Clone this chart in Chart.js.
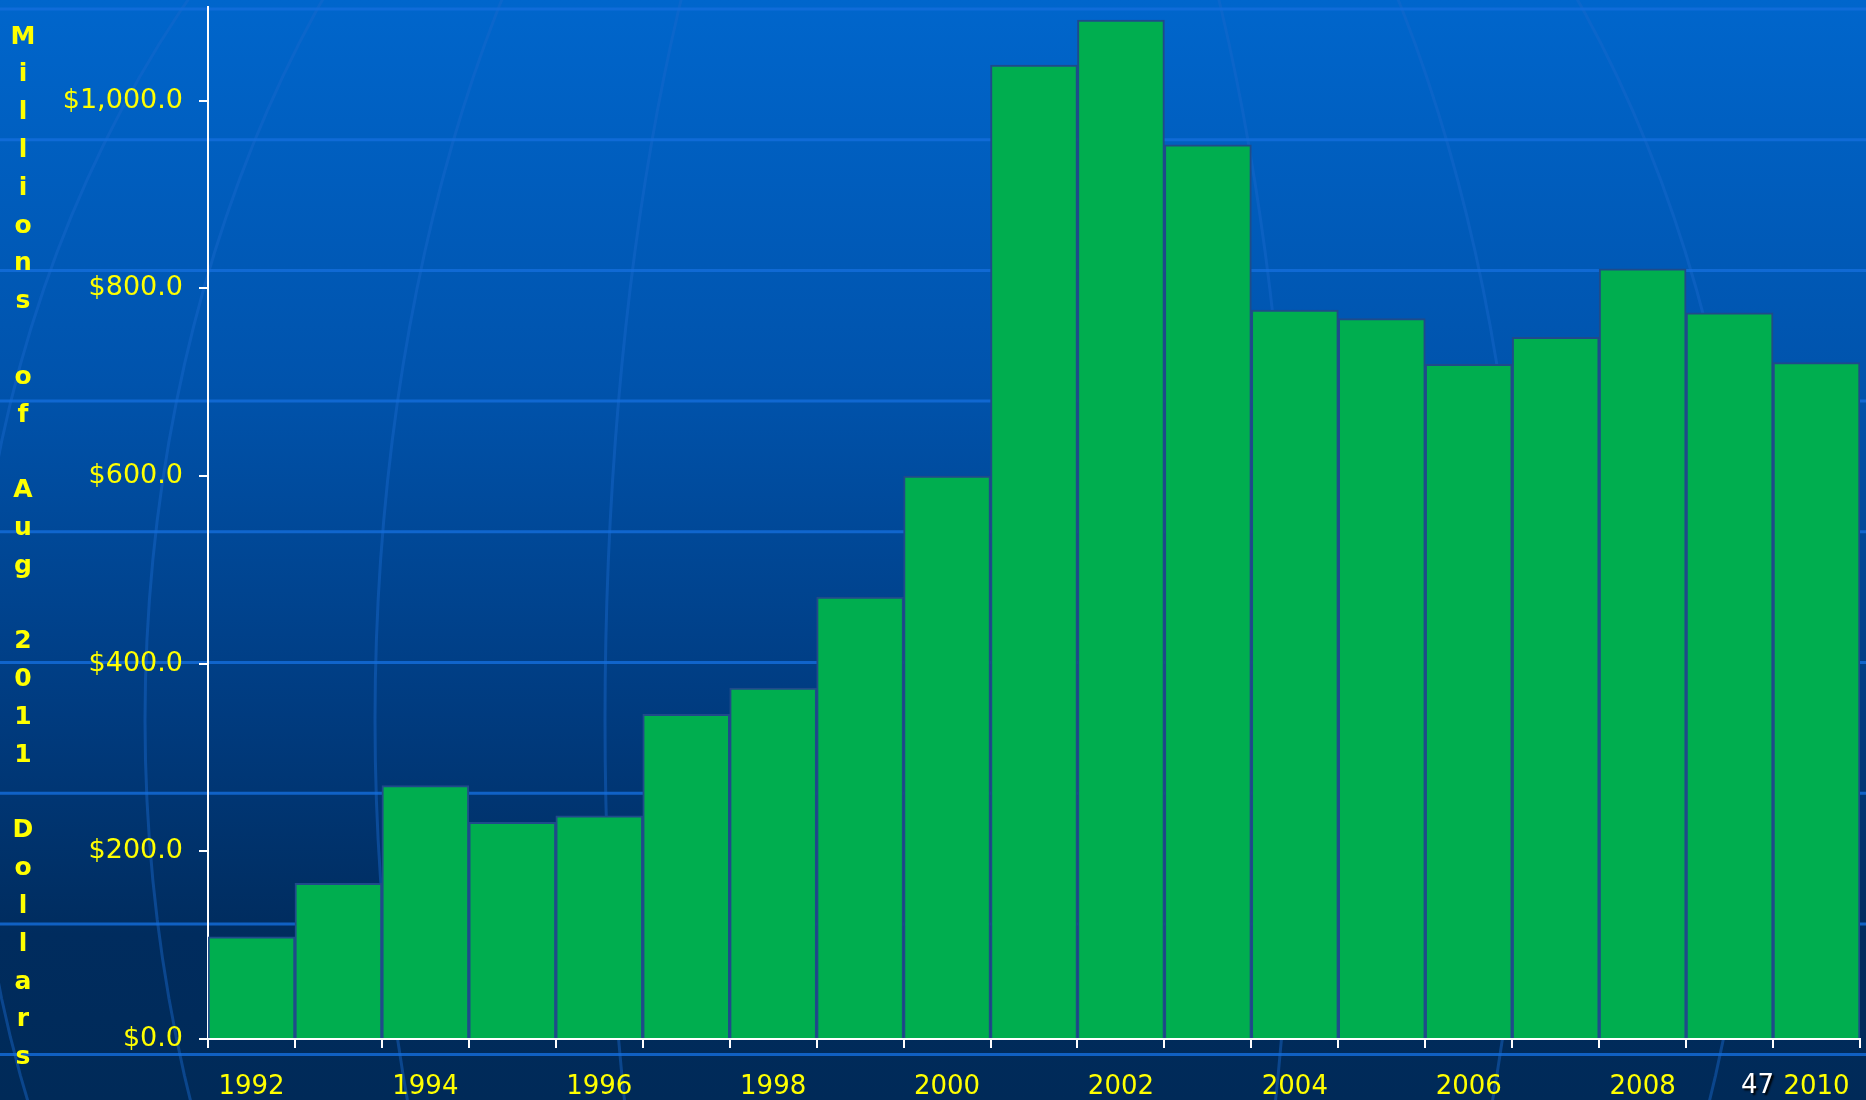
<!DOCTYPE html>
<html>
<head>
<meta charset="utf-8">
<script src="https://cdn.jsdelivr.net/npm/chart.js@4.4.0/dist/chart.umd.min.js"></script>
<style>
  html, body { margin: 0; padding: 0; background: #002a58; }
  #wrap { position: relative; width: 1866px; height: 1100px; }
  #pageNum {
    position: absolute; left: 1741px; top: 1069px;
    font: 26px "DejaVu Sans", Verdana, sans-serif; color: #fff;
    text-shadow: 2px 2px 2px #000;
  }
</style>
</head>
<body>
<div id="wrap">
  <canvas id="grafico" width="1866" height="1100"></canvas>
  <div id="pageNum">47</div>
</div>
<script>
// datos del gráfico
const years = ['1992','1993','1994','1995','1996','1997','1998','1999','2000','2001',
               '2002','2003','2004','2005','2006','2007','2008','2009','2010'];
const spending = [109, 166, 270, 231, 238, 346, 374, 471, 600, 1038,
                  1086, 953, 777, 768, 719, 748, 821, 774, 721];
const axisTitle = 'Millions of Aug 2011 Dollars';

const FONT = '"DejaVu Sans", Verdana, sans-serif';

// fondo azul de la plantilla
const fondo = {
  id: 'fondo',
  beforeDraw(chart) {
    const c = chart.ctx;
    const w = chart.width, h = chart.height;
    const g = c.createLinearGradient(0, 0, 0, h);
    g.addColorStop(0, '#0066cc');
    g.addColorStop(0.35, '#0053ac');
    g.addColorStop(0.65, '#003b7f');
    g.addColorStop(0.85, '#002c5e');
    g.addColorStop(1, '#002a58');
    c.save();
    c.fillStyle = g;
    c.fillRect(0, 0, w, h);
    // meridianos tenues (globo)
    c.strokeStyle = 'rgba(25,105,205,0.45)';
    c.lineWidth = 3;
    const cx = 950, cy = 720, R = 1150;
    [-0.85, -0.7, -0.5, -0.3, 0.3, 0.5, 0.7].forEach(s => {
      c.beginPath();
      for (let t = -90; t <= 90; t += 2) {
        const th = t * Math.PI / 180;
        const x = cx + R * s * Math.cos(th);
        const y = cy - R * Math.sin(th);
        if (t === -90) c.moveTo(x, y); else c.lineTo(x, y);
      }
      c.stroke();
    });
    // líneas horizontales
    c.strokeStyle = 'rgba(20,110,220,0.8)';
    c.lineWidth = 3;
    for (let y = 9; y < h; y += 130.7) {
      c.beginPath();
      c.moveTo(0, y);
      c.lineTo(w, y);
      c.stroke();
    }
    c.restore();
  },
  afterDraw(chart) {
    // título vertical, una letra por línea
    const c = chart.ctx;
    c.save();
    c.fillStyle = '#ffff00';
    c.font = 'bold 25px ' + FONT;
    c.textAlign = 'center';
    c.textBaseline = 'middle';
    axisTitle.split('').forEach((ch, i) => {
      c.fillText(ch, 23, 37 + i * 37.8);
    });
    c.restore();
  }
};

const ctx = document.getElementById('grafico').getContext('2d');

const grafico = new Chart(ctx, {
  type: 'bar',
  data: {
    labels: years,
    datasets: [{
      data: spending,
      backgroundColor: '#00ae4f',
      borderColor: '#1f4b8a',
      borderWidth: 2,
      borderSkipped: 'bottom',
      barPercentage: 1,
      categoryPercentage: 1
    }]
  },
  options: {
    responsive: false,
    animation: false,
    layout: { padding: { left: 0, right: 6, top: 7, bottom: 0 } },
    plugins: {
      legend: { display: false },
      tooltip: { enabled: false }
    },
    scales: {
      x: {
        afterFit(s) { s.height = 61; s.paddingLeft = 0; s.paddingRight = 0; },
        border: { color: '#ffffff', width: 2 },
        grid: {
          offset: true,
          drawOnChartArea: false,
          drawTicks: true,
          tickLength: 9,
          color: '#ffffff',
          lineWidth: 2
        },
        ticks: {
          autoSkip: false,
          maxRotation: 0,
          color: '#ffff00',
          font: { family: FONT, size: 26 },
          padding: 24,
          callback: function (v, i) { return i % 2 === 0 ? this.getLabelForValue(v) : ''; }
        }
      },
      y: {
        min: 0,
        max: 1100,
        afterFit(s) { s.width = 208; s.paddingTop = 0; s.paddingBottom = 0; },
        afterBuildTicks(s) { s.ticks = s.ticks.filter(t => t.value % 200 === 0); },
        border: { color: '#ffffff', width: 2 },
        grid: {
          drawOnChartArea: false,
          drawTicks: true,
          tickLength: 9,
          color: '#ffffff',
          lineWidth: 2
        },
        ticks: {
          stepSize: 100,
          color: '#ffff00',
          font: { family: FONT, size: 27 },
          padding: 16,
          callback: v => '$' + v.toLocaleString('en-US', { minimumFractionDigits: 1, maximumFractionDigits: 1 })
        }
      }
    }
  },
  plugins: [fondo]
});
</script>
</body>
</html>
